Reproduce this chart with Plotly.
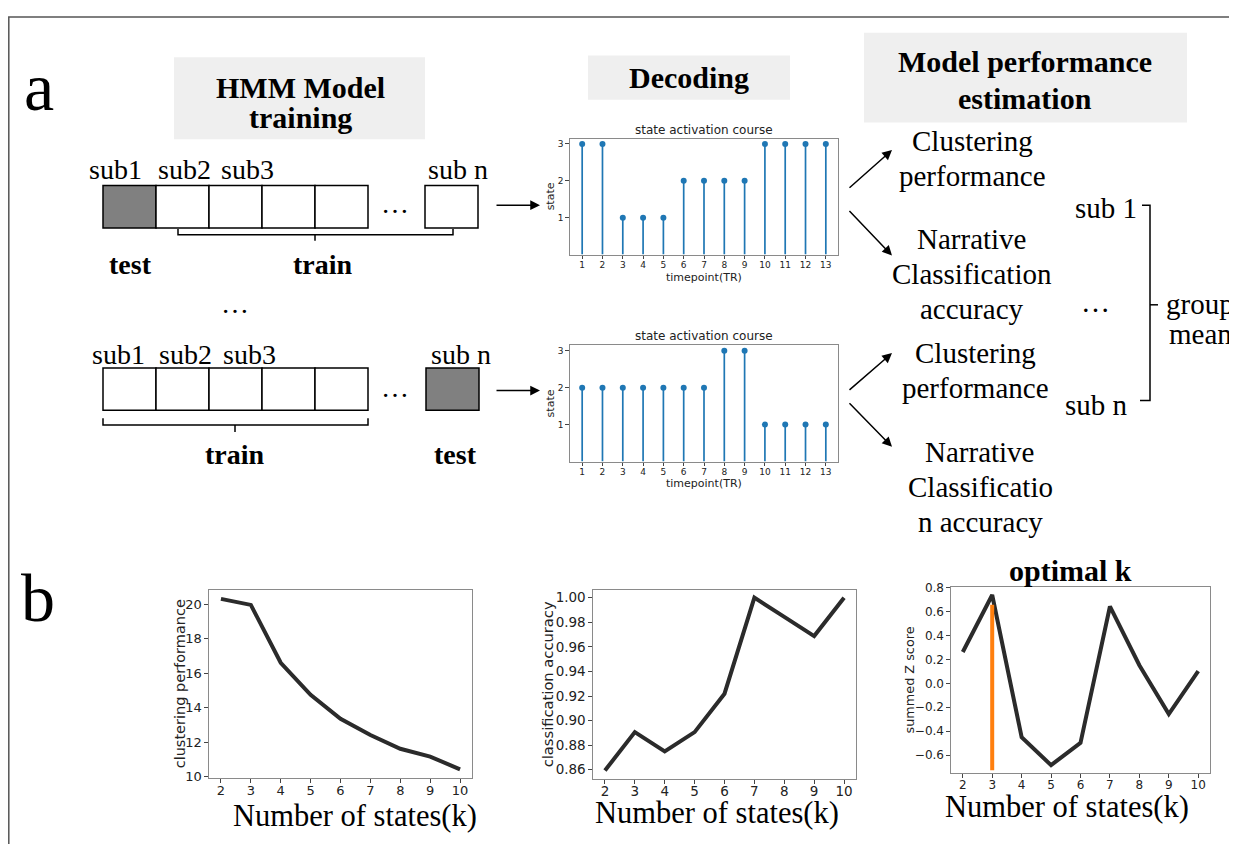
import plotly.graph_objects as go

W, H = 1237, 844
OFF = 8  # browser default body margin

# ---------------- data ----------------
timepoints = list(range(1, 14))
states_sub1 = [3, 3, 1, 1, 1, 2, 2, 2, 2, 3, 3, 3, 3]
states_subn = [2, 2, 2, 2, 2, 2, 2, 3, 3, 1, 1, 1, 1]
k_states = [2, 3, 4, 5, 6, 7, 8, 9, 10]
clustering_perf = [20.3, 19.95, 16.6, 14.74, 13.36, 12.42, 11.62, 11.17, 10.43]
class_acc = [0.859375, 0.890625, 0.875, 0.890625, 0.921875, 1.0, 0.984375, 0.96875, 1.0]
summed_z = [0.262, 0.739, -0.45, -0.684, -0.497, 0.643, 0.152, -0.257, 0.102]
optimal_k = 3
optimal_span = [-0.726, 0.657]
state_ticks = [1, 2, 3]

SERIF = "Liberation Serif"
SANS = "DejaVu Sans"
STEM = "#1f77b4"
DARK = "#2b2b2b"
FRAME = "#8a8a8a"


def px(x):
    return (x - OFF) / W


def py(y):
    return 1 - (y - OFF) / H


def xdom(x0, x1):
    return [px(x0), px(x1)]


def ydom(top, bot):
    return [py(bot), py(top)]


fig = go.Figure()


def stem_traces(xa, ya, xs, ys):
    lx, ly = [], []
    for x, y in zip(xs, ys):
        lx += [x, x, None]
        ly += [0, y, None]
    fig.add_trace(go.Scatter(x=lx, y=ly, mode="lines", line=dict(color=STEM, width=1.7),
                             xaxis=xa, yaxis=ya, showlegend=False, hoverinfo="skip"))
    fig.add_trace(go.Scatter(x=xs, y=ys, mode="markers", marker=dict(color=STEM, size=6),
                             xaxis=xa, yaxis=ya, showlegend=False))


stem_traces("x", "y", timepoints, states_sub1)
stem_traces("x2", "y2", timepoints, states_subn)

fig.add_trace(go.Scatter(x=k_states, y=clustering_perf, mode="lines",
                         line=dict(color=DARK, width=4), xaxis="x3", yaxis="y3", showlegend=False))
fig.add_trace(go.Scatter(x=k_states, y=class_acc, mode="lines",
                         line=dict(color=DARK, width=4), xaxis="x4", yaxis="y4", showlegend=False))
fig.add_trace(go.Scatter(x=k_states, y=summed_z, mode="lines",
                         line=dict(color=DARK, width=4), xaxis="x5", yaxis="y5", showlegend=False))
fig.add_trace(go.Scatter(x=[optimal_k, optimal_k], y=optimal_span, mode="lines",
                         line=dict(color="#ff7f0e", width=4), xaxis="x5", yaxis="y5", showlegend=False))


def axis(domain, rng, tickvals, size, anchor, fmt=None, standoff=0):
    d = dict(domain=domain, range=rng, tickvals=tickvals, showgrid=False, zeroline=False,
             showline=True, mirror=True, linecolor=FRAME, linewidth=1.2,
             ticks="outside", ticklen=3.5, tickcolor="#444", tickwidth=1,
             tickfont=dict(family=SANS, size=size, color="#222"), anchor=anchor, fixedrange=True,
             ticklabelstandoff=standoff)
    if fmt:
        d["tickformat"] = fmt
    return d


fig.update_layout(
    xaxis=axis(xdom(570, 838), [0.4, 13.6], timepoints, 9, "y", standoff=-2),
    yaxis=axis(ydom(135, 252), [0, 3.13], state_ticks, 9, "x"),
    xaxis2=axis(xdom(570, 838), [0.4, 13.6], timepoints, 9, "y2", standoff=-2),
    yaxis2=axis(ydom(344, 462), [0, 3.15], state_ticks, 9, "x2"),
    xaxis3=axis(xdom(209, 472), [1.6, 10.4], k_states, 13, "y3", standoff=-3),
    yaxis3=axis(ydom(592, 783), [9.93, 20.83], [10, 12, 14, 16, 18, 20], 13, "x3"),
    xaxis4=axis(xdom(593, 856), [1.6, 10.4], k_states, 13.5, "y4", standoff=-4),
    yaxis4=axis(ydom(592, 784), [0.8525, 1.0065], [0.86, 0.88, 0.90, 0.92, 0.94, 0.96, 0.98, 1.00], 13.5, "x4", ".2f"),
    xaxis5=axis(xdom(951, 1210), [1.6, 10.4], k_states, 12, "y5", standoff=-3),
    yaxis5=axis(ydom(589, 778), [-0.75, 0.808], [-0.6, -0.4, -0.2, 0.0, 0.2, 0.4, 0.6, 0.8], 12, "x5", ".1f"),
)

shapes = []
annotations = []


def rect(x0, y0, x1, y1, fill, line=None, lw=1.5):
    shapes.append(dict(type="rect", xref="paper", yref="paper", x0=px(x0), x1=px(x1),
                       y0=py(y1), y1=py(y0), fillcolor=fill,
                       line=dict(color=line or fill, width=lw if line else 0), layer="below"))


def path(points, color="black", width=1.5):
    s = "M " + " L ".join(f"{px(x)},{py(y)}" for x, y in points)
    shapes.append(dict(type="path", xref="paper", yref="paper", path=s,
                       line=dict(color=color, width=width)))


def text(x, y, t, size, bold=False, family=SERIF, angle=0, color="black"):
    if bold:
        t = f"<b>{t}</b>"
    annotations.append(dict(x=px(x), y=py(y), xref="paper", yref="paper", text=t,
                            showarrow=False, xanchor="center", yanchor="middle", textangle=angle,
                            font=dict(family=family, size=size, color=color)))


def arrow(tx, ty, hx, hy):
    annotations.append(dict(x=px(hx), y=py(hy), xref="paper", yref="paper", text="",
                            showarrow=True, ax=tx - hx, ay=ty - hy, axref="pixel", ayref="pixel",
                            arrowhead=2, arrowsize=1.3, arrowwidth=1.5, arrowcolor="black", standoff=0))


# outer frame (top and left edges)
path([(8.8, 860), (8.8, 11), (1250, 11)], color="#555", width=1.5)

# panel letters
text(39, 82, "a", 68)
text(38, 600, "b", 68)

# heading boxes
rect(174, 52, 425, 135, "#efefef")
text(300, 83, "HMM Model", 30, bold=True)
text(300, 113, "training", 30, bold=True)
rect(588, 50, 790, 95, "#efefef")
text(689, 72, "Decoding", 30, bold=True)
rect(864, 27, 1187, 118, "#efefef")
text(1025, 56, "Model performance", 30, bold=True)
text(1025, 94, "estimation", 30, bold=True)

# row 1 squares
for i in range(5):
    x0 = 103 + 53 * i
    rect(x0, 182, x0 + 53, 225, "#808080" if i == 0 else "white", line="black")
rect(425, 182, 478, 225, "white", line="black")
for x, t in [(115, "sub1"), (184, "sub2"), (248, "sub3"), (458, "sub n")]:
    text(x, 166, t, 28)
text(395, 200, "…", 28)
path([(178, 226), (178, 232), (453, 232), (453, 226)])
path([(315, 232), (315, 238)])
text(130, 262, "test", 28, bold=True)
text(323, 262, "train", 28, bold=True)
arrow(495, 202, 540, 202)

text(235, 302, "…", 28)

# row 2 squares
for i in range(5):
    x0 = 103 + 53 * i
    rect(x0, 367, x0 + 53, 410, "white", line="black")
rect(426, 367, 479, 410, "#808080", line="black")
for x, t in [(118, "sub1"), (185, "sub2"), (249, "sub3"), (461, "sub n")]:
    text(x, 353, t, 28)
text(395, 387, "…", 28)
path([(103, 418), (103, 425), (368, 425), (368, 418)])
path([(235, 425), (235, 432)])
text(235, 455, "train", 28, bold=True)
text(455, 455, "test", 28, bold=True)
arrow(495, 390, 540, 390)

# stem plot labels
for ty, yl, xl in [(126, 193, 275), (335, 403, 484)]:
    text(704, ty, "state activation course", 12, family=SANS, color="#222")
    text(550, yl, "state", 11, family=SANS, angle=-90, color="#222")
    text(704, xl, "timepoint(TR)", 11, family=SANS, color="#222")

# right side arrows
arrow(848, 185, 892, 146)
arrow(848, 207, 892, 253)
arrow(848, 390, 892, 352)
arrow(848, 402, 892, 447)

text(972, 137, "Clustering", 29)
text(972, 172, "performance", 29)
text(972, 236, "Narrative", 29)
text(972, 272, "Classification", 29)
text(972, 307, "accuracy", 29)
text(975, 352, "Clustering", 29)
text(975, 387, "performance", 29)
text(980, 452, "Narrative", 29)
text(980, 488, "Classificatio", 29)
text(980, 523, "n accuracy", 29)

text(1106, 205, "sub 1", 29)
text(1096, 405, "sub n", 29)
text(1095, 300, "…", 29)
path([(1142, 202), (1150, 202), (1150, 400), (1140, 400)])
path([(1150, 303), (1158, 303)])
text(1200, 302, "group", 29)
text(1200, 333, "mean", 29)

# bottom panel labels
text(180, 688, "clustering performance", 14.5, family=SANS, angle=-90, color="#222")
text(547, 688, "classification accuracy", 14.7, family=SANS, angle=-90, color="#222")
text(909, 683, "summed Z score", 12.8, family=SANS, angle=-90, color="#222")
text(355, 822, "Number of states(k)", 30.5)
text(717, 819, "Number of states(k)", 30.5)
text(1067, 812, "Number of states(k)", 30.5)
text(1070, 573, "optimal k", 30, bold=True)

fig.update_layout(
    width=W, height=H, margin=dict(l=0, r=0, t=0, b=0),
    paper_bgcolor="white", plot_bgcolor="white",
    shapes=shapes, annotations=annotations, showlegend=False,
)

fig.write_html("out.html")
